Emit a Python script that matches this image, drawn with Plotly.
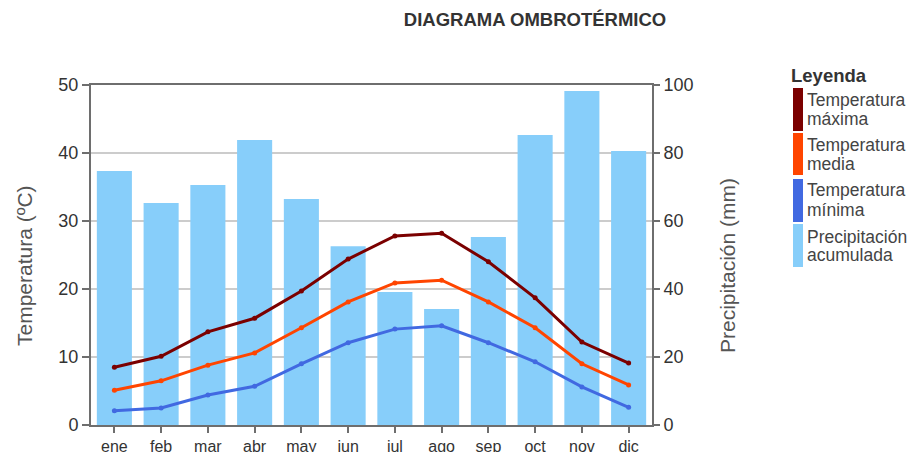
import plotly.graph_objects as go

meses = ["ene", "feb", "mar", "abr", "may", "jun", "jul", "ago", "sep", "oct", "nov", "dic"]
precipitacion = [74.7, 65.3, 70.6, 83.8, 66.5, 52.6, 39.1, 34.1, 55.3, 85.3, 98.2, 80.6]
temp_max = [8.5, 10.1, 13.7, 15.7, 19.7, 24.4, 27.8, 28.2, 24.0, 18.7, 12.2, 9.1]
temp_media = [5.1, 6.5, 8.8, 10.6, 14.3, 18.1, 20.9, 21.3, 18.1, 14.3, 9.0, 5.9]
temp_min = [2.1, 2.5, 4.4, 5.7, 9.0, 12.1, 14.1, 14.6, 12.1, 9.3, 5.6, 2.6]

legend_labels = [("Temperatura", "máxima"), ("Temperatura", "media"),
                 ("Temperatura", "mínima"), ("Precipitación", "acumulada")]
legend_colors = ["#7B0000", "#FF4500", "#4169E1", "#87CEFA"]

FONT = "Liberation Sans, Arial, sans-serif"
GRAY = "#444444"
AXC = "#6E6E6E"

# page offset (body margin) compensation
OFF = 8
W, H = 918 - OFF, 452 - OFF
PX0, PX1, PY0, PY1 = 91, 652, 85, 425  # plot area in page pixels


def px(x):
    return (x - PX0) / (PX1 - PX0)


def py(y):
    return (PY1 - y) / (PY1 - PY0)


fig = go.Figure()
fig.add_trace(go.Bar(x=meses, y=precipitacion, marker=dict(color="#87CEFA", line=dict(width=0)),
                     yaxis="y", showlegend=False))
for vals, col in zip([temp_max, temp_media, temp_min], legend_colors[:3]):
    fig.add_trace(go.Scatter(x=meses, y=vals, mode="lines+markers", yaxis="y2",
                             line=dict(color=col, width=3),
                             marker=dict(color=col, size=5), showlegend=False))

fig.update_layout(
    width=W, height=H,
    margin=dict(l=PX0 - OFF, r=W - (PX1 - OFF), t=PY0 - OFF, b=H - (PY1 - OFF), autoexpand=False),
    paper_bgcolor="white", plot_bgcolor="white",
    bargap=0.25,
    font=dict(family=FONT, color=GRAY, size=14),
    title=dict(text="<b>DIAGRAMA OMBROTÉRMICO</b>", x=(535 - OFF) / W, xanchor="center",
               y=1 - (20 - OFF) / H, yanchor="middle", font=dict(size=18.5, color="#333333", family=FONT)),
    xaxis=dict(range=[-0.5, 11.5], showline=True, linecolor=AXC, linewidth=2, mirror=True,
               ticks="outside", ticklen=6, tickcolor=AXC, tickwidth=1.5,
               tickfont=dict(size=16, color="#333333"), automargin=False),
    yaxis=dict(side="right", range=[0, 100], dtick=20, showline=True, linecolor=AXC,
               linewidth=2, ticks="outside", ticklen=6, tickcolor=AXC, tickwidth=1.5,
               showgrid=True, gridcolor="#CCCCCC", gridwidth=1.5, zeroline=False,
               tickfont=dict(size=18, color="#333333"), automargin=False),
    yaxis2=dict(side="left", overlaying="y", range=[0, 50], dtick=10, showline=True,
                linecolor=AXC, linewidth=2, ticks="outside", ticklen=7, tickcolor=AXC, tickwidth=1.5,
                showgrid=False, zeroline=False, tickfont=dict(size=18, color="#333333"),
                automargin=False),
)

# axis titles as annotations for precise placement
fig.add_annotation(x=px(24), y=py(266), xref="paper", yref="paper", text="Temperatura (ºC)",
                   textangle=-90, showarrow=False, xanchor="center", yanchor="middle",
                   font=dict(size=21, color="#555555", family=FONT))
fig.add_annotation(x=px(727), y=py(266), xref="paper", yref="paper", text="Precipitación (mm)",
                   textangle=-90, showarrow=False, xanchor="center", yanchor="middle",
                   font=dict(size=21, color="#555555", family=FONT))

# Custom legend
fig.add_annotation(x=px(789), y=py(75), xref="paper", yref="paper", text="<b>Leyenda</b>",
                   showarrow=False, xanchor="left", yanchor="middle",
                   font=dict(size=18.5, color="#333333", family=FONT))
bars = [(88, 131), (133, 175), (179, 222), (224, 267)]
lines_y = [(100, 119), (145, 164), (190, 210), (237, 255)]
for (l1, l2), col, (t, b), (y1, y2) in zip(legend_labels, legend_colors, bars, lines_y):
    fig.add_shape(type="rect", xref="paper", yref="paper",
                  x0=px(793), x1=px(803), y0=py(t), y1=py(b),
                  fillcolor=col, line=dict(width=0))
    for txt, yy in ((l1, y1), (l2, y2)):
        fig.add_annotation(x=px(805), y=py(yy), xref="paper", yref="paper",
                           text=txt, showarrow=False, xanchor="left", yanchor="middle",
                           align="left", font=dict(size=17.5, color=GRAY, family=FONT))

fig.write_html("out.html")
